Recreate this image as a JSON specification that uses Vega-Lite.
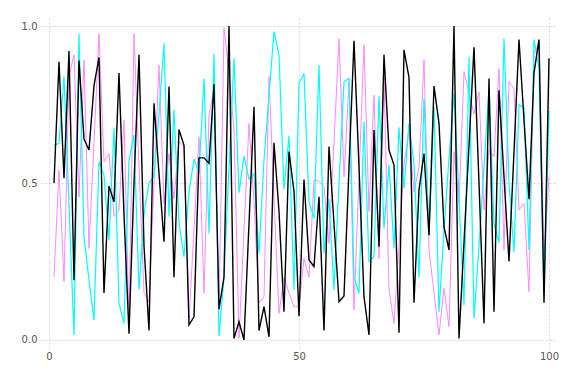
{
  "$schema": "https://vega.github.io/schema/vega-lite/v6.json",
  "autosize": "none",
  "padding": {"left": 41, "top": 18, "right": 19, "bottom": 36},
  "width": 516,
  "height": 330,
  "background": "white",
  "config": {
    "view": {"stroke": null},
    "axis": {
      "domain": false,
      "ticks": false,
      "grid": true,
      "gridColor": "#d4d4e4",
      "gridDash": [2, 2],
      "gridWidth": 1,
      "labelColor": "#555555",
      "labelFont": "DejaVu Sans",
      "labelFontSize": 10,
      "title": null
    }
  },
  "data": {"values": [
    {"x":1,"k":0.5,"c":0.621,"m":0.2},
    {"x":2,"k":0.886,"c":0.626,"m":0.541},
    {"x":3,"k":0.515,"c":0.839,"m":0.186},
    {"x":4,"k":0.92,"c":0.43,"m":0.84},
    {"x":5,"k":0.19,"c":0.016,"m":0.908},
    {"x":6,"k":0.89,"c":0.975,"m":0.456},
    {"x":7,"k":0.64,"c":0.33,"m":0.892},
    {"x":8,"k":0.605,"c":0.19,"m":0.292},
    {"x":9,"k":0.81,"c":0.064,"m":0.63},
    {"x":10,"k":0.9,"c":0.568,"m":0.975},
    {"x":11,"k":0.15,"c":0.525,"m":0.568},
    {"x":12,"k":0.49,"c":0.318,"m":0.594},
    {"x":13,"k":0.44,"c":0.677,"m":0.393},
    {"x":14,"k":0.85,"c":0.117,"m":0.414},
    {"x":15,"k":0.4,"c":0.053,"m":0.7},
    {"x":16,"k":0.02,"c":0.573,"m":0.053},
    {"x":17,"k":0.5,"c":0.653,"m":0.975},
    {"x":18,"k":0.908,"c":0.16,"m":0.55},
    {"x":19,"k":0.3,"c":0.4,"m":0.15},
    {"x":20,"k":0.03,"c":0.5,"m":0.12},
    {"x":21,"k":0.754,"c":0.52,"m":0.5},
    {"x":22,"k":0.53,"c":0.72,"m":0.876},
    {"x":23,"k":0.313,"c":0.945,"m":0.435},
    {"x":24,"k":0.807,"c":0.393,"m":0.594},
    {"x":25,"k":0.2,"c":0.733,"m":0.45},
    {"x":26,"k":0.67,"c":0.372,"m":0.632},
    {"x":27,"k":0.62,"c":0.265,"m":0.616},
    {"x":28,"k":0.048,"c":0.472,"m":0.064},
    {"x":29,"k":0.074,"c":0.576,"m":0.35},
    {"x":30,"k":0.58,"c":0.531,"m":0.647},
    {"x":31,"k":0.58,"c":0.833,"m":0.149},
    {"x":32,"k":0.563,"c":0.34,"m":0.717},
    {"x":33,"k":0.815,"c":0.911,"m":0.8},
    {"x":34,"k":0.098,"c":0.013,"m":0.096},
    {"x":35,"k":0.2,"c":0.2,"m":0.993},
    {"x":36,"k":1.0,"c":0.55,"m":0.85},
    {"x":37,"k":0.005,"c":0.897,"m":0.669},
    {"x":38,"k":0.058,"c":0.469,"m":0.005},
    {"x":39,"k":0.0,"c":0.586,"m":0.35},
    {"x":40,"k":0.37,"c":0.512,"m":0.69},
    {"x":41,"k":0.743,"c":0.529,"m":0.44},
    {"x":42,"k":0.03,"c":0.276,"m":0.117},
    {"x":43,"k":0.106,"c":0.573,"m":0.138},
    {"x":44,"k":0.01,"c":0.78,"m":0.839},
    {"x":45,"k":0.628,"c":0.982,"m":0.45},
    {"x":46,"k":0.41,"c":0.908,"m":0.085},
    {"x":47,"k":0.09,"c":0.48,"m":0.2},
    {"x":48,"k":0.6,"c":0.65,"m":0.15},
    {"x":49,"k":0.473,"c":0.16,"m":0.106},
    {"x":50,"k":0.076,"c":0.817,"m":0.106},
    {"x":51,"k":0.511,"c":0.849,"m":0.26},
    {"x":52,"k":0.255,"c":0.44,"m":0.2},
    {"x":53,"k":0.234,"c":0.387,"m":0.51},
    {"x":54,"k":0.456,"c":0.876,"m":0.505},
    {"x":55,"k":0.03,"c":0.276,"m":0.488},
    {"x":56,"k":0.616,"c":0.45,"m":0.308},
    {"x":57,"k":0.37,"c":0.16,"m":0.63},
    {"x":58,"k":0.122,"c":0.5,"m":0.96},
    {"x":59,"k":0.14,"c":0.823,"m":0.52},
    {"x":60,"k":0.55,"c":0.833,"m":0.82},
    {"x":61,"k":0.953,"c":0.2,"m":0.096},
    {"x":62,"k":0.55,"c":0.149,"m":0.52},
    {"x":63,"k":0.138,"c":0.695,"m":0.94},
    {"x":64,"k":0.016,"c":0.25,"m":0.409},
    {"x":65,"k":0.669,"c":0.265,"m":0.78},
    {"x":66,"k":0.297,"c":0.777,"m":0.26},
    {"x":67,"k":0.908,"c":0.356,"m":0.839},
    {"x":68,"k":0.605,"c":0.557,"m":0.16},
    {"x":69,"k":0.557,"c":0.292,"m":0.053},
    {"x":70,"k":0.023,"c":0.677,"m":0.3},
    {"x":71,"k":0.924,"c":0.483,"m":0.56},
    {"x":72,"k":0.836,"c":0.69,"m":0.67},
    {"x":73,"k":0.119,"c":0.56,"m":0.472},
    {"x":74,"k":0.478,"c":0.2,"m":0.55},
    {"x":75,"k":0.594,"c":0.77,"m":0.892},
    {"x":76,"k":0.334,"c":0.334,"m":0.287},
    {"x":77,"k":0.809,"c":0.743,"m":0.15},
    {"x":78,"k":0.69,"c":0.09,"m":0.016},
    {"x":79,"k":0.36,"c":0.35,"m":0.165},
    {"x":80,"k":0.287,"c":0.58,"m":0.042},
    {"x":81,"k":1.0,"c":0.786,"m":0.6},
    {"x":82,"k":0.005,"c":0.45,"m":0.435},
    {"x":83,"k":0.31,"c":0.111,"m":0.855},
    {"x":84,"k":0.62,"c":0.902,"m":0.786},
    {"x":85,"k":0.932,"c":0.069,"m":0.72},
    {"x":86,"k":0.5,"c":0.3,"m":0.79},
    {"x":87,"k":0.053,"c":0.55,"m":0.414},
    {"x":88,"k":0.833,"c":0.8,"m":0.605},
    {"x":89,"k":0.09,"c":0.37,"m":0.584},
    {"x":90,"k":0.795,"c":0.31,"m":0.865},
    {"x":91,"k":0.52,"c":0.96,"m":0.287},
    {"x":92,"k":0.25,"c":0.5,"m":0.823},
    {"x":93,"k":0.6,"c":0.28,"m":0.8},
    {"x":94,"k":0.957,"c":0.75,"m":0.414},
    {"x":95,"k":0.7,"c":0.74,"m":0.435},
    {"x":96,"k":0.448,"c":0.287,"m":0.154},
    {"x":97,"k":0.85,"c":0.957,"m":0.913},
    {"x":98,"k":0.957,"c":0.865,"m":0.945},
    {"x":99,"k":0.119,"c":0.138,"m":0.265},
    {"x":100,"k":0.897,"c":0.732,"m":0.52}
  ]},
  "encoding": {
    "x": {
      "field": "x", "type": "quantitative",
      "scale": {"domain": [-1.6, 101.6], "nice": false, "zero": false},
      "axis": {"values": [0, 50, 100], "format": "d", "labelPadding": 3}
    }
  },
  "layer": [
    {
      "mark": {"type": "line", "color": "#ff88ff", "strokeWidth": 1},
      "encoding": {
        "y": {"field": "m", "type": "quantitative",
          "scale": {"domain": [-0.0255, 1.0255], "nice": false, "zero": false},
          "axis": {"values": [0, 0.5, 1], "format": ".1f", "labelPadding": 4}}
      }
    },
    {
      "mark": {"type": "line", "color": "#00ffff", "strokeWidth": 1.2},
      "encoding": {"y": {"field": "c", "type": "quantitative"}}
    },
    {
      "mark": {"type": "line", "color": "#000000", "strokeWidth": 1.4},
      "encoding": {"y": {"field": "k", "type": "quantitative"}}
    }
  ],
  "resolve": {"scale": {"y": "shared"}, "axis": {"y": "shared"}}
}
